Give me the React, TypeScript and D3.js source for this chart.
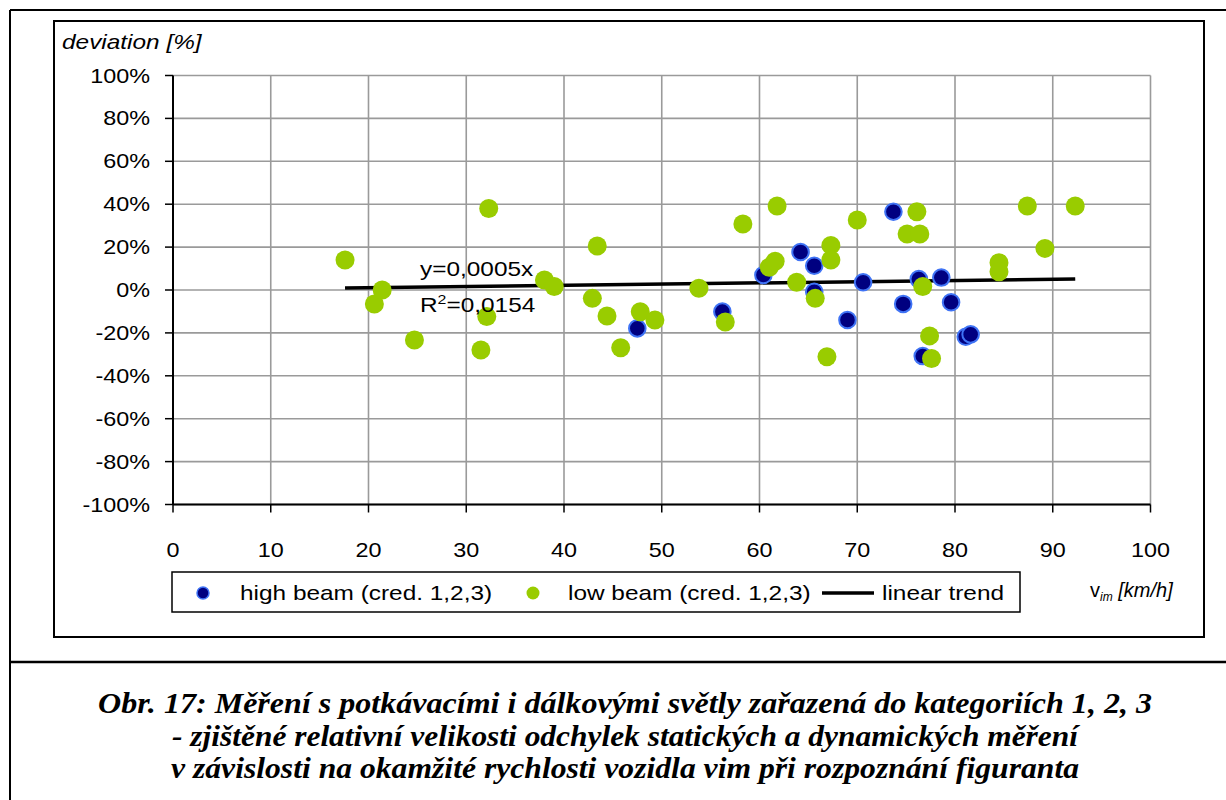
import React from "react";
import * as d3 from "d3";

// ---- data (speed v_im [km/h], deviation [%]) ----
const highBeamX = [47.5, 56.2, 60.4, 64.2, 65.6, 65.6, 69.0, 70.6, 73.7, 74.7, 76.3, 76.7, 78.6, 79.6, 81.1, 81.6];
const highBeamY = [-17.9, -10.1, 7.0, 17.7, 11.3, -0.8, -14.0, 3.6, 36.5, -6.5, 5.1, -30.8, 5.8, -5.7, -21.8, -20.7];

const lowBeamX = [
  17.6, 20.6, 21.4, 24.7, 31.5, 32.1, 32.3, 38.0, 39.0, 42.9, 43.4, 44.4, 45.8, 47.8, 49.3,
  53.8, 56.5, 58.3, 61.0, 61.6, 61.8, 63.8, 65.7, 66.9, 67.3, 67.3, 70.0, 75.1, 76.1, 76.4,
  76.7, 77.4, 77.6, 84.5, 84.5, 87.4, 89.2, 92.3,
];
const lowBeamY = [
  14.0, -6.5, 0.0, -23.3, -28.0, -12.4, 38.0, 4.7, 1.6, -3.9, 20.5, -12.1, -26.9, -10.1, -14.0,
  0.8, -14.9, 30.8, 10.6, 13.4, 39.2, 3.6, -3.9, -31.1, 20.8, 14.0, 32.6, 26.1, 36.5, 26.1,
  1.6, -21.4, -31.9, 12.7, 8.5, 39.2, 19.4, 39.2,
];

const trendSlope = 0.055; // % per km/h (y = 0,0005x in fraction units)
const trendLabel = "y=0,0005x";
const r2Label = "0,0154";

const xTicks = [0, 10, 20, 30, 40, 50, 60, 70, 80, 90, 100];
const yTicks = [-100, -80, -60, -40, -20, 0, 20, 40, 60, 80, 100];

const legendItems = ["high beam (cred. 1,2,3)", "low beam (cred. 1,2,3)", "linear trend"];
const captionLines = [
  "Obr. 17: Měření s potkávacími i dálkovými světly zařazená do kategoriích 1, 2, 3",
  "- zjištěné relativní velikosti odchylek statických a dynamických měření",
  "v závislosti na okamžité rychlosti vozidla vim při rozpoznání figuranta",
];
const captionWidths = [1054, 906, 908];

const GREEN = "#99cc00";
const NAVY = "#000080";
const NAVY_STROKE = "#3f73f5";
const GRID = "#9a9a9a";
const SANS = "'Liberation Sans', Arial, sans-serif";
const SERIF = "'Liberation Serif', 'Times New Roman', serif";
const K = 1.22; // horizontal stretch of the original's text

function SText(props: {
  x: number;
  y: number;
  anchor?: string;
  size?: number;
  italic?: boolean;
  k?: number;
  children: React.ReactNode;
  dy?: string;
}) {
  const { x, y, anchor = "start", size = 20, italic = false, k = K, children, dy } = props;
  return (
    <text
      transform={`translate(${x},${y}) scale(${k},1)`}
      textAnchor={anchor}
      fontFamily={SANS}
      fontSize={size}
      fontStyle={italic ? "italic" : "normal"}
      dy={dy}
    >
      {children}
    </text>
  );
}

export default function App() {
  const x = d3.scaleLinear().domain([0, 100]).range([173, 1150.5]);
  const y = d3.scaleLinear().domain([-100, 100]).range([504.5, 75.5]);

  const high = highBeamX.map((v, i) => ({ x: v, y: highBeamY[i] }));
  const low = lowBeamX.map((v, i) => ({ x: v, y: lowBeamY[i] }));

  const allX = [...highBeamX, ...lowBeamX];
  const xMin = d3.min(allX) as number;
  const xMax = d3.max(allX) as number;
  const trendPts: [number, number][] = [
    [xMin, trendSlope * xMin],
    [xMax, trendSlope * xMax],
  ];
  const line = d3
    .line<[number, number]>()
    .x((d) => x(d[0]))
    .y((d) => y(d[1]));

  return (
    <svg
      width={1226}
      height={800}
      style={{ position: "absolute", left: 0, top: 0, background: "#fff" }}
    >
      {/* outer frame */}
      <line x1={10} y1={10} x2={1226} y2={10} stroke="#000" strokeWidth={2} />
      <line x1={10} y1={10} x2={10} y2={800} stroke="#000" strokeWidth={2} />
      <line x1={10} y1={662} x2={1226} y2={662} stroke="#000" strokeWidth={2.5} />

      {/* chart box */}
      <rect x={54} y={21} width={1150} height={616} fill="#fff" stroke="#000" strokeWidth={2} />

      {/* y title */}
      <SText x={62} y={49} italic>
        deviation [%]
      </SText>

      {/* grid */}
      {yTicks.map((t) => (
        <line key={"gy" + t} x1={x(0)} x2={x(100)} y1={y(t)} y2={y(t)} stroke={GRID} strokeWidth={1.6} />
      ))}
      {xTicks.map((t) => (
        <line key={"gx" + t} x1={x(t)} x2={x(t)} y1={y(100)} y2={y(-100)} stroke={GRID} strokeWidth={1.6} />
      ))}

      {/* axes */}
      <line x1={x(0)} x2={x(0)} y1={y(100)} y2={y(-100)} stroke="#000" strokeWidth={2} />
      <line x1={x(0)} x2={x(100)} y1={y(-100)} y2={y(-100)} stroke="#000" strokeWidth={2} />
      {yTicks.map((t) => (
        <g key={"ty" + t}>
          <line x1={x(0) - 8} x2={x(0)} y1={y(t)} y2={y(t)} stroke="#000" strokeWidth={1.5} />
          <SText x={150} y={y(t)} dy="0.35em" anchor="end" k={1.17}>
            {t + "%"}
          </SText>
        </g>
      ))}
      {xTicks.map((t) => (
        <g key={"tx" + t}>
          <line x1={x(t)} x2={x(t)} y1={y(-100)} y2={y(-100) + 8} stroke="#000" strokeWidth={1.5} />
          <SText x={x(t)} y={557} anchor="middle" k={1.17}>
            {t}
          </SText>
        </g>
      ))}

      {/* trend line */}
      <path d={line(trendPts) || ""} stroke="#000" strokeWidth={3.5} fill="none" />

      {/* points */}
      {high.map((d, i) => (
        <circle key={"h" + i} cx={x(d.x)} cy={y(d.y)} r={8.3} fill={NAVY} stroke={NAVY_STROKE} strokeWidth={2} />
      ))}
      {low.map((d, i) => (
        <circle key={"l" + i} cx={x(d.x)} cy={y(d.y)} r={9.5} fill={GREEN} />
      ))}

      {/* trend labels */}
      <SText x={420} y={276}>
        {trendLabel}
      </SText>
      <SText x={420} y={312}>
        R
        <tspan dy={-8} fontSize={13}>2</tspan>
        <tspan dy={8}>{"=" + r2Label}</tspan>
      </SText>

      {/* legend */}
      <rect x={172} y={572} width={848} height={40} fill="#fff" stroke="#000" strokeWidth={1.5} />
      <circle cx={203} cy={593} r={6} fill={NAVY} stroke={NAVY_STROKE} strokeWidth={1.5} />
      <SText x={240} y={600}>{legendItems[0]}</SText>
      <circle cx={533} cy={593} r={6.5} fill={GREEN} />
      <SText x={568} y={600}>{legendItems[1]}</SText>
      <line x1={822} x2={874} y1={593} y2={593} stroke="#000" strokeWidth={3.5} />
      <SText x={882} y={600}>{legendItems[2]}</SText>

      {/* x title */}
      <text x={1090} y={597} fontFamily={SANS} fontSize={20}>
        v
        <tspan fontSize={12} fontStyle="italic" dy={4}>im</tspan>
        <tspan fontStyle="italic" dy={-4}> [km/h]</tspan>
      </text>

      {/* caption */}
      {captionLines.map((c, i) => (
        <text
          key={"c" + i}
          x={625}
          y={713 + i * 32.5}
          textAnchor="middle"
          fontFamily={SERIF}
          fontSize={30}
          fontWeight="bold"
          fontStyle="italic"
          textLength={captionWidths[i]}
          lengthAdjust="spacingAndGlyphs"
        >
          {c}
        </text>
      ))}
    </svg>
  );
}
